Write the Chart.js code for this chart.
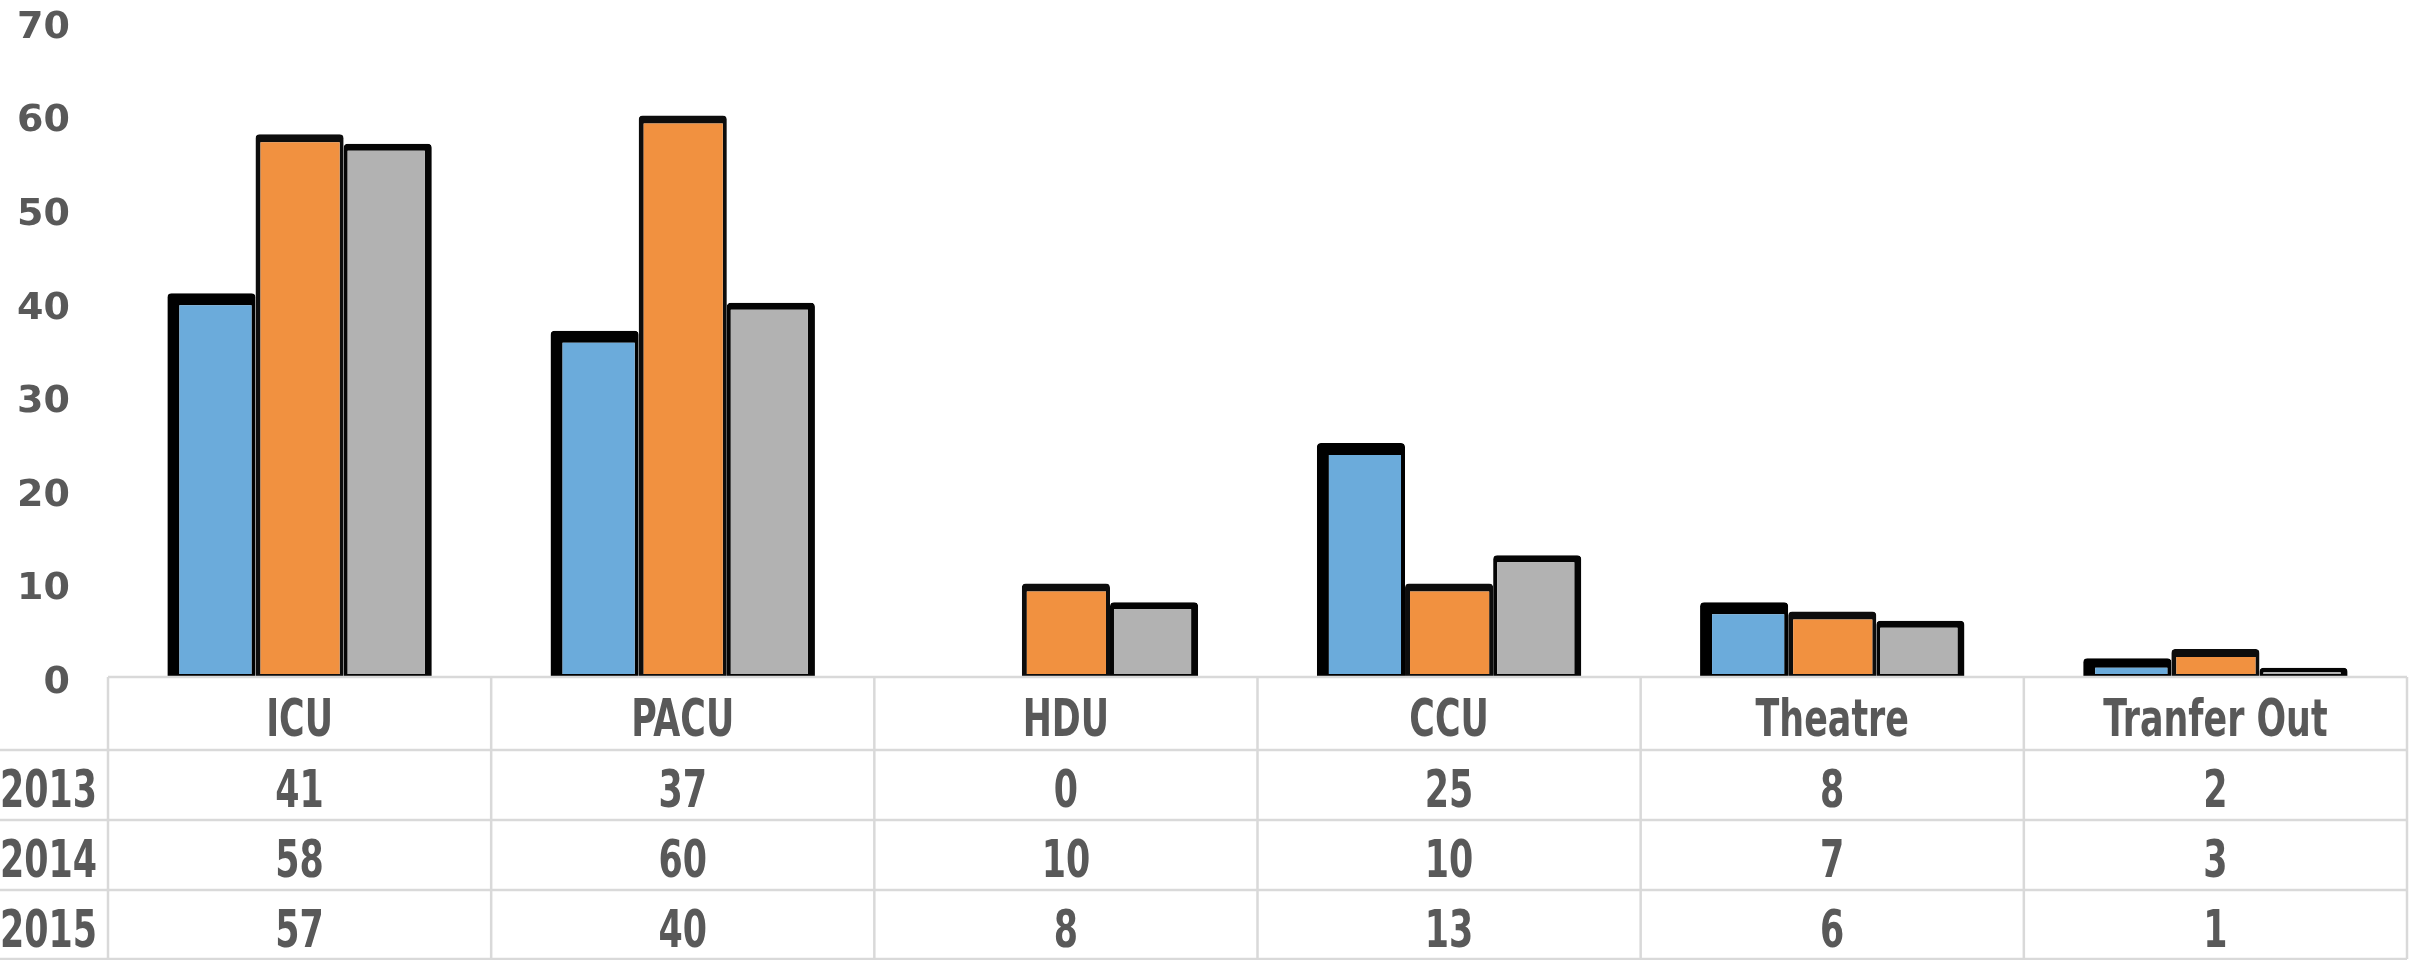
<!DOCTYPE html>
<html>
<head>
<meta charset="utf-8">
<script src="https://cdn.jsdelivr.net/npm/chart.js@4/dist/chart.umd.min.js"></script>
<style>
  html, body { margin: 0; padding: 0; background: #fff; }
  #wrap { width: 2409px; height: 960px; position: relative; }
</style>
</head>
<body>
<div id="wrap"><canvas id="chart"></canvas></div>
<script>
// Data
const categories = ['ICU', 'PACU', 'HDU', 'CCU', 'Theatre', 'Tranfer Out'];
const years = ['2013', '2014', '2015'];
const values2013 = [41, 37, 0, 25, 8, 2];
const values2014 = [58, 60, 10, 10, 7, 3];
const values2015 = [57, 40, 8, 13, 6, 1];
const yTicks = [0, 10, 20, 30, 40, 50, 60, 70];

const textColor = '#595959';
const tableFont = 'bold 51px "DejaVu Sans Condensed", "DejaVu Sans", sans-serif';
const squeeze = 0.76;
const lineColor = '#d9d9d9';

// condensed text: draw with a horizontal squeeze
function narrowText(ctx, text, x, y, align) {
  ctx.save();
  ctx.translate(x, y);
  ctx.scale(squeeze, 1);
  ctx.textAlign = align;
  ctx.fillText(text, 0, 0);
  ctx.restore();
}

// Table below the plot, drawn from the x scale
const dataTable = {
  id: 'dataTable',
  afterDraw(chart) {
    const ctx = chart.ctx;
    const area = chart.chartArea;
    const xs = chart.scales.x;
    const colW = (area.right - area.left) / categories.length;
    const top = area.bottom;
    const headerH = 73;
    const rowH = 70;
    const bottom = chart.height - 1;
    const rows = [values2013, values2014, values2015];

    ctx.save();
    ctx.strokeStyle = lineColor;
    ctx.lineWidth = 2.5;

    // horizontal lines
    ctx.beginPath();
    ctx.moveTo(area.left, top);
    ctx.lineTo(area.right, top);
    for (let r = 0; r <= rows.length; r++) {
      const y = Math.min(top + headerH + r * rowH, bottom);
      ctx.moveTo(0, y);
      ctx.lineTo(area.right, y);
    }
    // vertical lines
    for (let c = 0; c <= categories.length; c++) {
      const x = area.left + c * colW;
      ctx.moveTo(x, top);
      ctx.lineTo(x, bottom);
    }
    ctx.stroke();

    ctx.fillStyle = textColor;
    ctx.font = tableFont;
    ctx.textBaseline = 'middle';

    categories.forEach((cat, i) => {
      const x = xs.getPixelForValue(i);
      narrowText(ctx, cat, x, top + headerH / 2 + 9, 'center');
      rows.forEach((vals, r) => {
        narrowText(ctx, String(vals[i]), x, top + headerH + r * rowH + rowH / 2 + 9, 'center');
      });
    });

    years.forEach((yr, r) => {
      narrowText(ctx, yr, 0, top + headerH + r * rowH + rowH / 2 + 9, 'left');
    });
    ctx.restore();
  }
};

function barStyle(fill, border, bw) {
  return {
    backgroundColor: fill,
    borderColor: border,
    borderWidth: bw,
    borderSkipped: false,
    borderRadius: { topLeft: 4, topRight: 4, bottomLeft: 0, bottomRight: 0 },
    barPercentage: 1,
    categoryPercentage: 0.69
  };
}

const ctx = document.getElementById('chart').getContext('2d');
new Chart(ctx, {
  type: 'bar',
  data: {
    labels: categories,
    datasets: [
      Object.assign({ label: years[0], data: values2013 },
        barStyle('#6babdb', '#000000', { left: 12, top: 12, right: 4, bottom: 3 })),
      Object.assign({ label: years[1], data: values2014 },
        barStyle('#f19140', '#0d0d0d', { left: 5, top: 8, right: 4, bottom: 3 })),
      Object.assign({ label: years[2], data: values2015 },
        barStyle('#b2b2b2', '#050505', { left: 4, top: 7, right: 7, bottom: 3 }))
    ]
  },
  options: {
    responsive: true,
    maintainAspectRatio: false,
    animation: false,
    layout: {
      padding: { top: 22, right: 2, bottom: 283, left: 0 }
    },
    plugins: {
      legend: { display: false },
      tooltip: { enabled: false }
    },
    scales: {
      x: {
        display: false
      },
      y: {
        min: 0,
        max: 70,
        afterBuildTicks: (axis) => {
          axis.ticks = yTicks.map(v => ({ value: v }));
        },
        afterFit: (axis) => {
          axis.width = 108;
          axis.paddingTop = 0;
          axis.paddingBottom = 0;
        },
        grid: { display: false },
        border: { display: false },
        ticks: {
          color: textColor,
          padding: 30,
          labelOffset: 6,
          font: { family: '"DejaVu Sans", sans-serif', size: 38, weight: 'bold' }
        }
      }
    }
  },
  plugins: [dataTable]
});
</script>
</body>
</html>
